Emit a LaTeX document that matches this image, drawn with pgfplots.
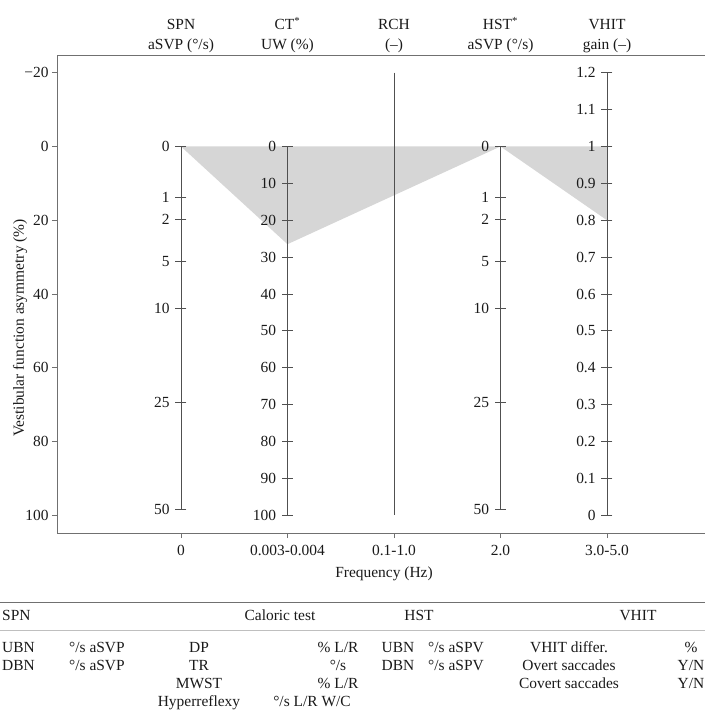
\documentclass[border=0pt]{standalone}
\usepackage{fontspec}
\setmainfont{Liberation Serif}
\usepackage{pgfplots}
\usepackage{pgfplotstable}
\pgfplotsset{compat=1.18}
\definecolor{polyfill}{HTML}{D6D6D6}
\definecolor{scaleline}{HTML}{505050}
\definecolor{frameline}{HTML}{707070}
\definecolor{txt}{HTML}{1A1A1A}

% SPN scale (deg/s) mapped onto asymmetry axis
\pgfplotstableread{
x y lab
0 0 0
0 13.9 1
0 19.66 2
0 31.08 5
0 43.96 10
0 69.5 25
0 98.29 50
}\spntab
% CT scale (UW %)
\pgfplotstableread{
x y lab
1 0 0
1 10 10
1 20 20
1 30 30
1 40 40
1 50 50
1 60 60
1 70 70
1 80 80
1 90 90
1 100 100
}\cttab
% HST scale (deg/s)
\pgfplotstableread{
x y lab
3 0 0
3 13.9 1
3 19.66 2
3 31.08 5
3 43.96 10
3 69.5 25
3 98.29 50
}\hsttab
% VHIT gain scale
\pgfplotstableread{
x y lab
4 -20 1.2
4 -10 1.1
4 0 1
4 10 0.9
4 20 0.8
4 30 0.7
4 40 0.6
4 50 0.5
4 60 0.4
4 70 0.3
4 80 0.2
4 90 0.1
4 100 0
}\vhittab
% shaded asymmetry profile
\pgfplotstableread{
x y
0 0
1 26.5
3 0
4 20
4 0
}\profile

\pgfplotsset{
  scalestyle/.style={color=scaleline, line width=0.8bp, mark=-, mark size=5.5bp,
    mark options={solid, line width=0.8bp, scaleline},
    nodes near coords={\pgfplotspointmeta}, point meta=explicit symbolic,
    nodes near coords style={anchor=east, xshift=-11bp, inner sep=0pt, text=txt,
      font=\fontsize{15.5}{19}\selectfont}}
}

\begin{document}
\begin{tikzpicture}[font=\fontsize{15.5}{19}\selectfont, text=txt]
\useasboundingbox (0,0) rectangle (705bp,712bp);
\begin{axis}[
  at={(57bp,179bp)}, anchor=south west, scale only axis,
  width=654bp, height=478bp,
  xmin=-1.164, xmax=4.977, ymin=-24.8, ymax=104.8, y dir=reverse,
  xtick={0,1,2,3,4}, xticklabels={0,0.003-0.004,0.1-1.0,2.0,3.0-5.0},
  ytick={-20,0,20,40,60,80,100}, yticklabels={−20,0,20,40,60,80,100},
  tick align=outside, xtick pos=lower, ytick pos=left, major tick length=5bp,
  tick style={frameline, line width=0.8bp},
  axis line style={frameline, line width=0.8bp},
  tick label style={font=\fontsize{15.5}{19}\selectfont, text=txt},
  xticklabel style={anchor=base, yshift=-17bp},
  clip=false,
]
\addplot[fill=polyfill, draw=none, forget plot] table[x=x,y=y] {\profile} \closedcycle;
\addplot[scalestyle] table[x=x,y=y,meta=lab] {\spntab};
\addplot[scalestyle] table[x=x,y=y,meta=lab] {\cttab};
\addplot[color=scaleline, line width=0.8bp] coordinates {(2,-20) (2,100)};
\addplot[scalestyle] table[x=x,y=y,meta=lab] {\hsttab};
\addplot[scalestyle] table[x=x,y=y,meta=lab] {\vhittab};
\end{axis}

% column headers
\foreach \xx/\la/\lb in {181/{SPN}/{aSVP (°/s)}, 287.5/{CT\textsuperscript{*}}/{UW (\%)}, 394/{RCH}/{(–)}, 500.5/{HST\textsuperscript{*}}/{aSVP (°/s)}, 607/{VHIT}/{gain (–)}} {
  \node[anchor=base, inner sep=0pt] at (\xx bp, 682bp) {\la};
  \node[anchor=base, inner sep=0pt] at (\xx bp, 662bp) {\lb};
}
\node[anchor=base, inner sep=0pt] at (384bp, 134bp) {Frequency (Hz)};
\node[rotate=90, anchor=center, inner sep=0pt] at (20bp, 384bp) {Vestibular function asymmetry (\%)};

% table below
\draw[frameline, line width=0.8bp] (0,110bp) -- (705bp,110bp);
\draw[black!25, line width=0.5bp] (0,82bp) -- (705bp,82bp);
\begin{scope}[every node/.style={inner sep=0pt}]
\node[anchor=base west] at (2bp,91bp) {SPN};
\node[anchor=base] at (280bp,91bp) {Caloric test};
\node[anchor=base] at (419bp,91bp) {HST};
\node[anchor=base] at (638bp,91bp) {VHIT};
\node[anchor=base west] at (2bp,59bp) {UBN};
\node[anchor=base west] at (2bp,41bp) {DBN};
\node[anchor=base west] at (69bp,59bp) {°/s aSVP};
\node[anchor=base west] at (69bp,41bp) {°/s aSVP};
\node[anchor=base] at (199bp,59bp) {DP};
\node[anchor=base] at (199bp,41bp) {TR};
\node[anchor=base] at (199bp,24bp) {MWST};
\node[anchor=base] at (199bp,6bp) {Hyperreflexy};
\node[anchor=base] at (338bp,59bp) {\% L/R};
\node[anchor=base] at (338bp,41bp) {°/s};
\node[anchor=base] at (338bp,24bp) {\% L/R};
\node[anchor=base] at (312bp,6bp) {°/s L/R W/C};
\node[anchor=base] at (398bp,59bp) {UBN};
\node[anchor=base] at (398bp,41bp) {DBN};
\node[anchor=base] at (456bp,59bp) {°/s aSPV};
\node[anchor=base] at (456bp,41bp) {°/s aSPV};
\node[anchor=base] at (569bp,59bp) {VHIT differ.};
\node[anchor=base] at (569bp,41bp) {Overt saccades};
\node[anchor=base] at (569bp,24bp) {Covert saccades};
\node[anchor=base] at (691bp,59bp) {\%};
\node[anchor=base] at (691bp,41bp) {Y/N};
\node[anchor=base] at (691bp,24bp) {Y/N};
\end{scope}
\end{tikzpicture}
\end{document}
